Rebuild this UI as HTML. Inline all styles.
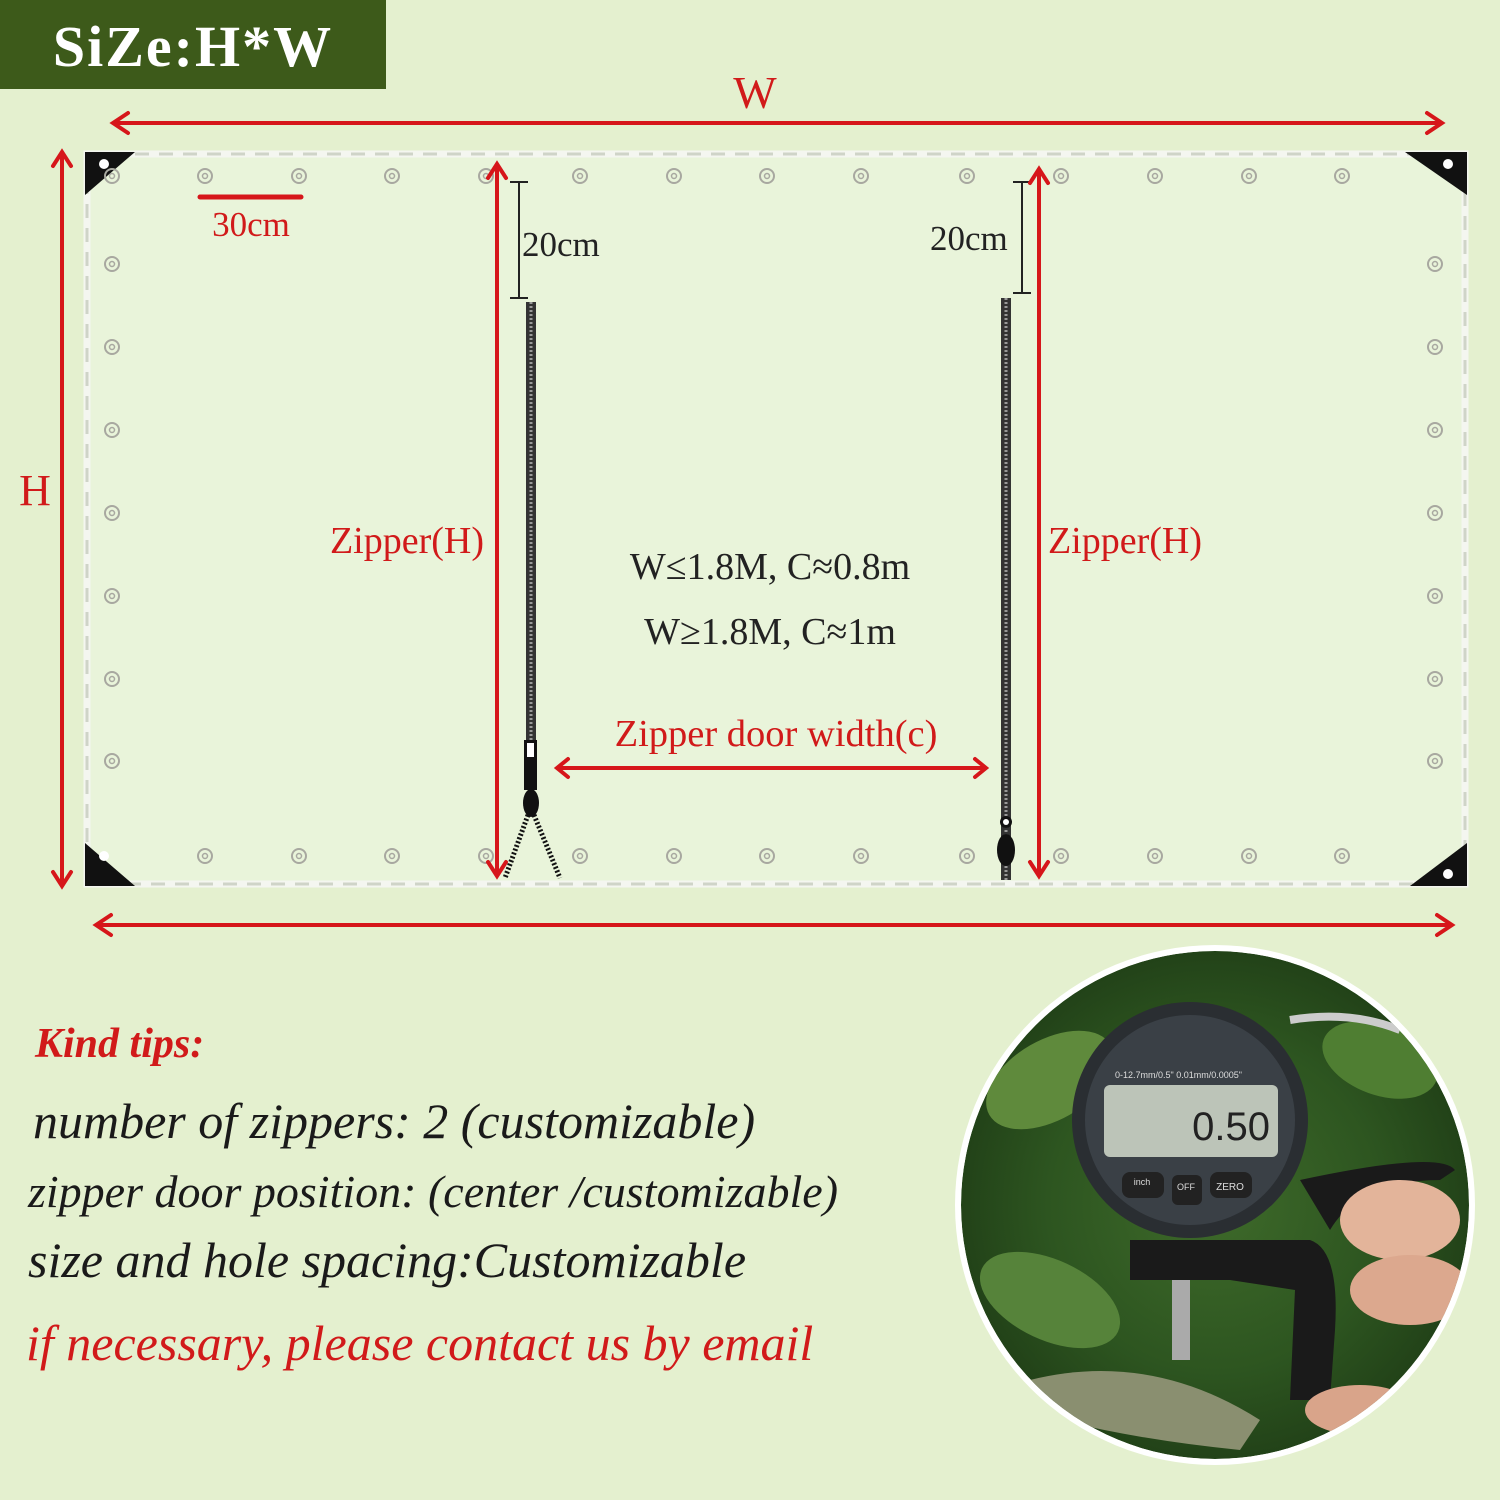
<!DOCTYPE html>
<html><head><meta charset="utf-8"><style>
html,body{margin:0;padding:0;background:#e4f0cf;}
svg{display:block}
</style></head><body>
<svg width="1500" height="1500" viewBox="0 0 1500 1500" xmlns="http://www.w3.org/2000/svg">
<defs>
<radialGradient id="ph" cx="50%" cy="50%" r="55%">
<stop offset="0" stop-color="#3e6a2a"/><stop offset="0.6" stop-color="#2d5520"/><stop offset="1" stop-color="#1f3d16"/>
</radialGradient>
<clipPath id="cc"><circle cx="1215" cy="1205" r="254"/></clipPath>
<g id="gr"><circle r="7" fill="none" stroke="#a8a8a0" stroke-width="2"/><circle r="2.5" fill="none" stroke="#a8a8a0" stroke-width="1.5"/></g>
</defs>
<rect width="1500" height="1500" fill="#e4f0cf"/>
<!-- title -->
<rect x="0" y="0" width="386" height="89" fill="#3d5a1a"/>
<text x="193" y="66" text-anchor="middle" font-family="Liberation Serif, serif" font-weight="bold" font-size="58" letter-spacing="2" fill="#fff">SiZe:H*W</text>
<!-- panel -->
<rect x="87" y="154" width="1378" height="730" fill="#e9f4da" stroke="#f4f6f0" stroke-width="7"/>
<rect x="87" y="154" width="1378" height="730" fill="none" stroke="#cfd4c8" stroke-width="3" stroke-dasharray="14 10"/>
<polygon points="85,152 135,152 85,195" fill="#111"/><circle cx="104" cy="164" r="5" fill="#fff"/>
<polygon points="1467,152 1405,152 1467,195" fill="#111"/><circle cx="1448" cy="164" r="5" fill="#fff"/>
<polygon points="85,886 135,886 85,843" fill="#111"/><circle cx="104" cy="856" r="5" fill="#fff"/>
<polygon points="1467,886 1410,886 1467,843" fill="#111"/><circle cx="1448" cy="874" r="5" fill="#fff"/>
<!-- grommets -->
<g>
<use href="#gr" x="112" y="176"/><use href="#gr" x="205" y="176"/><use href="#gr" x="299" y="176"/><use href="#gr" x="392" y="176"/><use href="#gr" x="486" y="176"/><use href="#gr" x="580" y="176"/><use href="#gr" x="674" y="176"/><use href="#gr" x="767" y="176"/><use href="#gr" x="861" y="176"/><use href="#gr" x="967" y="176"/><use href="#gr" x="1061" y="176"/><use href="#gr" x="1155" y="176"/><use href="#gr" x="1249" y="176"/><use href="#gr" x="1342" y="176"/>
<use href="#gr" x="205" y="856"/><use href="#gr" x="299" y="856"/><use href="#gr" x="392" y="856"/><use href="#gr" x="486" y="856"/><use href="#gr" x="580" y="856"/><use href="#gr" x="674" y="856"/><use href="#gr" x="767" y="856"/><use href="#gr" x="861" y="856"/><use href="#gr" x="967" y="856"/><use href="#gr" x="1061" y="856"/><use href="#gr" x="1155" y="856"/><use href="#gr" x="1249" y="856"/><use href="#gr" x="1342" y="856"/>
<use href="#gr" x="112" y="264"/><use href="#gr" x="112" y="347"/><use href="#gr" x="112" y="430"/><use href="#gr" x="112" y="513"/><use href="#gr" x="112" y="596"/><use href="#gr" x="112" y="679"/><use href="#gr" x="112" y="761"/>
<use href="#gr" x="1435" y="264"/><use href="#gr" x="1435" y="347"/><use href="#gr" x="1435" y="430"/><use href="#gr" x="1435" y="513"/><use href="#gr" x="1435" y="596"/><use href="#gr" x="1435" y="679"/><use href="#gr" x="1435" y="761"/>
</g>
<!-- zippers -->
<rect x="526" y="302" width="10" height="440" fill="#333"/>
<line x1="531" y1="302" x2="531" y2="742" stroke="#999" stroke-width="3" stroke-dasharray="2 2"/>
<rect x="524" y="740" width="13" height="50" fill="#111"/><rect x="527" y="743" width="7" height="14" fill="#fff"/>
<ellipse cx="531" cy="803" rx="8" ry="14" fill="#111"/>
<path d="M528 815 L505 878 M534 815 L560 878" stroke="#111" stroke-width="5" stroke-dasharray="2 2"/>
<rect x="1001" y="298" width="10" height="582" fill="#333"/>
<line x1="1006" y1="298" x2="1006" y2="880" stroke="#999" stroke-width="3" stroke-dasharray="2 2"/>
<ellipse cx="1006" cy="850" rx="9" ry="16" fill="#111"/><circle cx="1006" cy="822" r="6" fill="#111"/><circle cx="1006" cy="822" r="3" fill="#fff"/>
<!-- 20cm brackets -->
<g stroke="#222" stroke-width="2"><line x1="519" y1="182" x2="519" y2="298"/><line x1="510" y1="182" x2="528" y2="182"/><line x1="510" y1="298" x2="528" y2="298"/>
<line x1="1022" y1="182" x2="1022" y2="293"/><line x1="1013" y1="182" x2="1031" y2="182"/><line x1="1013" y1="293" x2="1031" y2="293"/></g>
<!-- red arrows -->
<g stroke="#d6161a" stroke-width="4" fill="none" stroke-linecap="round">
<line x1="115" y1="123" x2="1440" y2="123"/><path d="M128 113 L113 123 L128 133 M1427 113 L1442 123 L1427 133"/>
<line x1="98" y1="925" x2="1450" y2="925"/><path d="M111 915 L96 925 L111 935 M1437 915 L1452 925 L1437 935"/>
<line x1="62" y1="153" x2="62" y2="885"/><path d="M53 166 L62 152 L71 166 M53 872 L62 886 L71 872"/>
<line x1="497" y1="165" x2="497" y2="875"/><path d="M488 178 L497 164 L506 178 M488 862 L497 876 L506 862"/>
<line x1="1039" y1="170" x2="1039" y2="875"/><path d="M1030 183 L1039 169 L1048 183 M1030 862 L1039 876 L1048 862"/>
<line x1="558" y1="768" x2="985" y2="768"/><path d="M568 759 L557 768 L568 777 M975 759 L986 768 L975 777"/>
<line x1="200" y1="197" x2="301" y2="197" stroke-width="5"/>
</g>
<g font-family="Liberation Serif, serif" fill="#d11a1a">
<text x="755" y="108" text-anchor="middle" font-size="46">W</text>
<text x="35" y="505" text-anchor="middle" font-size="44">H</text>
<text x="251" y="236" text-anchor="middle" font-size="35">30cm</text>
<text x="407" y="553" text-anchor="middle" font-size="38">Zipper(H)</text>
<text x="1125" y="553" text-anchor="middle" font-size="38">Zipper(H)</text>
<text x="776" y="746" text-anchor="middle" font-size="38.5">Zipper door width(c)</text>
</g>
<g font-family="Liberation Serif, serif" fill="#222">
<text x="522" y="256" font-size="35">20cm</text>
<text x="930" y="250" font-size="35">20cm</text>
<text x="770" y="579" text-anchor="middle" font-size="38">W≤1.8M, C≈0.8m</text>
<text x="770" y="644" text-anchor="middle" font-size="38">W≥1.8M, C≈1m</text>
</g>
<!-- tips -->
<g font-family="Liberation Serif, serif" font-style="italic">
<text x="35" y="1057" font-size="42" font-weight="bold" fill="#d11a1a">Kind tips:</text>
<text x="33" y="1138" font-size="50" fill="#1a1a1a">number of zippers: 2 (customizable)</text>
<text x="28" y="1207" font-size="46" fill="#1a1a1a">zipper door position: (center /customizable)</text>
<text x="28" y="1277" font-size="50" fill="#1a1a1a">size and hole spacing:Customizable</text>
<text x="26" y="1360" font-size="50" fill="#d11a1a">if necessary, please contact us by email</text>
</g>
<!-- photo -->
<circle cx="1215" cy="1205" r="260" fill="#fff"/>
<g clip-path="url(#cc)">
<circle cx="1215" cy="1205" r="254" fill="url(#ph)"/>
<ellipse cx="1050" cy="1080" rx="70" ry="40" fill="#5f8a3c" transform="rotate(-30 1050 1080)"/>
<ellipse cx="1380" cy="1060" rx="60" ry="35" fill="#4f7e32" transform="rotate(20 1380 1060)"/>
<ellipse cx="1050" cy="1300" rx="75" ry="40" fill="#56833a" transform="rotate(25 1050 1300)"/>
<path d="M1290 1020 Q1350 1010 1400 1030" stroke="#ccc" stroke-width="8" fill="none"/>
<circle cx="1190" cy="1120" r="118" fill="#2a2e32"/>
<circle cx="1190" cy="1120" r="105" fill="#3a4046"/>
<rect x="1104" y="1085" width="174" height="72" rx="6" fill="#bcc4b8"/>
<text x="1270" y="1140" text-anchor="end" font-family="Liberation Sans, sans-serif" font-size="40" fill="#222">0.50</text>
<text x="1115" y="1078" font-family="Liberation Sans, sans-serif" font-size="9" fill="#ddd">0-12.7mm/0.5"    0.01mm/0.0005"</text>
<rect x="1122" y="1172" width="42" height="26" rx="8" fill="#222"/><rect x="1172" y="1175" width="30" height="30" rx="6" fill="#222"/><rect x="1210" y="1172" width="42" height="26" rx="8" fill="#222"/>
<text x="1230" y="1190" text-anchor="middle" font-family="Liberation Sans, sans-serif" font-size="10" fill="#ddd">ZERO</text>
<text x="1186" y="1190" text-anchor="middle" font-family="Liberation Sans, sans-serif" font-size="9" fill="#ddd">OFF</text>
<text x="1142" y="1185" text-anchor="middle" font-family="Liberation Sans, sans-serif" font-size="9" fill="#ddd">inch</text>
<path d="M1130 1240 L1310 1240 Q1340 1250 1335 1330 L1330 1400 L1290 1400 L1295 1290 L1230 1280 L1130 1280 Z" fill="#1a1a1a"/>
<path d="M1300 1180 Q1440 1150 1455 1170 L1440 1180 Q1360 1180 1330 1230 Z" fill="#1a1a1a"/>
<rect x="1172" y="1280" width="18" height="80" fill="#aaa"/>
<ellipse cx="1400" cy="1220" rx="60" ry="40" fill="#e3b49a"/>
<ellipse cx="1410" cy="1290" rx="60" ry="35" fill="#dca88e"/>
<ellipse cx="1360" cy="1410" rx="55" ry="25" fill="#d9a48a"/>
<path d="M1030 1380 Q1150 1350 1260 1420 L1240 1450 Q1140 1440 1060 1420 Z" fill="#8a8f70"/>
</g>
</svg>
</body></html>
